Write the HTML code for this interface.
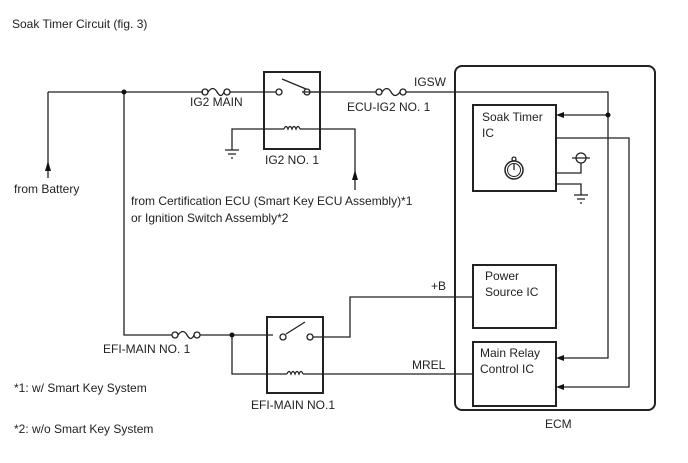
<!DOCTYPE html>
<html><head><style>
html,body{margin:0;padding:0;background:#fff;}
svg{display:block;}
text{font-family:"Liberation Sans",Arial,sans-serif;font-size:12px;fill:#222;}
</style></head><body>
<svg width="688" height="463" viewBox="0 0 688 463" xmlns="http://www.w3.org/2000/svg">
<defs>
<marker id="ar" markerWidth="8" markerHeight="8" refX="7" refY="4" orient="auto" markerUnits="userSpaceOnUse">
<path d="M0,1.5 L8,4 L0,6.5 Z" fill="#111"/></marker>
<marker id="au" markerWidth="10" markerHeight="12" refX="5" refY="1" orient="auto" markerUnits="userSpaceOnUse"></marker>
</defs>
<g stroke="#222" stroke-width="1.3" fill="none">
<!-- ECM box -->
<rect x="455" y="66" width="200" height="344" rx="7" stroke-width="2"/>
<rect x="473" y="105" width="83" height="86" stroke-width="2"/>
<rect x="473" y="265" width="83" height="63" stroke-width="2"/>
<rect x="473" y="342" width="83" height="64" stroke-width="2"/>
<!-- top line -->
<path d="M48,92 H203 M230,92 H276 M302,92 H376 M406,92 H608 V358 H560"/>
<path d="M48,92 V178"/>
<path d="M124,92 V335 H172 M200,335 H273"/>
<!-- fuses -->
<circle cx="205" cy="92" r="3"/><circle cx="227" cy="92" r="3"/>
<path d="M208,92 q5,-7 9,0 q4,7 7,0"/>
<circle cx="379" cy="92" r="3"/><circle cx="403" cy="92" r="3"/>
<path d="M382,92 q5,-7 9,0 q4,7 9,0"/>
<circle cx="175" cy="335" r="3"/><circle cx="197" cy="335" r="3"/>
<path d="M178,335 q5,-7 9,0 q4,7 7,0"/>
<!-- IG2 relay -->
<rect x="264" y="72" width="56" height="77" stroke-width="2"/>
<circle cx="279" cy="92" r="3"/><circle cx="307" cy="92" r="3"/>
<path d="M282,79 L306,89 M310,92 H320"/>
<path d="M232,150 V129 H284 M300,129 H355 V190"/>
<path d="M284,129 q2,-5 4,0 q2,-5 4,0 q2,-5 4,0 q2,-5 4,0"/>
<path d="M225,150 H239 M228,154 H236 M231,158 H233"/>
<!-- EFI relay -->
<rect x="267" y="317" width="56" height="76" stroke-width="2"/>
<circle cx="283" cy="337" r="3"/><circle cx="310" cy="337" r="3"/>
<path d="M286,334 L305,322 M313,337 H350 V297 H473"/>
<path d="M232,335 V374 H287 M303,374 H473"/>
<path d="M287,374 q2,-5 4,0 q2,-5 4,0 q2,-5 4,0 q2,-5 4,0"/>
<!-- soak timer wiring -->
<path d="M608,115 H562"/>
<path d="M556,138 H629 V387 H560"/>
<path d="M556,173 H581 V163"/>
<circle cx="581" cy="158" r="5"/>
<path d="M572,158 H590"/>
<path d="M556,184 H581 V195"/>
<path d="M574,195 H588 M577,199 H585 M580,203 H582"/>
<!-- stopwatch -->
<circle cx="514" cy="170" r="9" stroke-width="1.5"/>
<circle cx="514" cy="170" r="6.5" stroke-width="1"/>
<path d="M514,170 V164"/>
<circle cx="514" cy="159" r="2"/>
</g>
<g fill="#111">
<circle cx="124" cy="92" r="2.5"/><circle cx="608" cy="115" r="2.5"/><circle cx="232" cy="335" r="2.5"/>
<path d="M556,115 l8,-3 v6 z"/><path d="M556,358 l8,-3 v6 z"/><path d="M556,387 l8,-3 v6 z"/>
<path d="M48,161 l-3,10 h6 z"/><path d="M355,170 l-3,10 h6 z"/>
</g>
<text x="12" y="28">Soak Timer Circuit (fig. 3)</text>
<text x="190" y="106">IG2 MAIN</text>
<text x="347" y="111">ECU-IG2 NO. 1</text>
<text x="414" y="86">IGSW</text>
<text x="265" y="164">IG2 NO. 1</text>
<text x="14" y="193">from Battery</text>
<text x="131" y="205">from Certification ECU (Smart Key ECU Assembly)*1</text>
<text x="131" y="222">or Ignition Switch Assembly*2</text>
<text x="482" y="121">Soak Timer</text>
<text x="482" y="137">IC</text>
<text x="485" y="280">Power</text>
<text x="485" y="296">Source IC</text>
<text x="480" y="357">Main Relay</text>
<text x="480" y="373">Control IC</text>
<text x="431" y="290">+B</text>
<text x="412" y="369">MREL</text>
<text x="103" y="353">EFI-MAIN NO. 1</text>
<text x="251" y="409">EFI-MAIN NO.1</text>
<text x="14" y="392">*1: w/ Smart Key System</text>
<text x="14" y="433">*2: w/o Smart Key System</text>
<text x="545" y="428">ECM</text>
</svg>
</body></html>
